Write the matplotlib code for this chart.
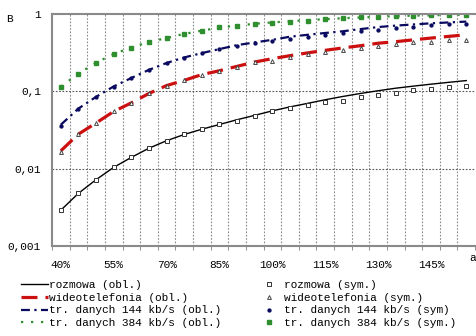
import matplotlib
matplotlib.use("Agg")
import matplotlib.pyplot as plt
import numpy as np

# load levels 40% .. 155% in steps of 5%
loads = list(range(40, 160, 5))
tick_labels = [f"{v}%" for v in loads]

# blocking probability, computed
voice_calc = [0.0029, 0.0048, 0.0072, 0.0104, 0.014, 0.0184, 0.023, 0.0277, 0.0324, 0.0373,
              0.043, 0.049, 0.056, 0.063, 0.070, 0.078, 0.086, 0.094, 0.102, 0.110,
              0.117, 0.124, 0.131, 0.138]
video_calc = [0.017, 0.028, 0.039, 0.055, 0.071, 0.094, 0.119, 0.139, 0.165, 0.185,
              0.211, 0.24, 0.265, 0.29, 0.315, 0.34, 0.365, 0.39, 0.42, 0.44,
              0.465, 0.49, 0.515, 0.54]
data144_calc = [0.037, 0.06, 0.085, 0.116, 0.149, 0.19, 0.233, 0.275, 0.313, 0.353,
                0.397, 0.43, 0.465, 0.51, 0.54, 0.57, 0.60, 0.64, 0.68, 0.71,
                0.735, 0.76, 0.78, 0.80]
data384_calc = [0.115, 0.17, 0.235, 0.305, 0.37, 0.435, 0.49, 0.555, 0.61, 0.67,
                0.71, 0.75, 0.78, 0.81, 0.835, 0.86, 0.885, 0.905, 0.925, 0.94,
                0.955, 0.965, 0.975, 0.985]

# blocking probability, simulated
voice_sim = [0.0029, 0.0048, 0.0072, 0.0104, 0.014, 0.0184, 0.0229, 0.0277, 0.0324, 0.0373,
             0.042, 0.0478, 0.055, 0.0607, 0.066, 0.073, 0.0757, 0.0836, 0.0906, 0.095,
             0.103, 0.106, 0.113, 0.119]
video_sim = [0.0165, 0.028, 0.039, 0.055, 0.071, 0.094, 0.119, 0.139, 0.165, 0.185,
             0.205, 0.24, 0.25, 0.278, 0.304, 0.319, 0.346, 0.363, 0.39, 0.41,
             0.43, 0.44, 0.465, 0.465]
data144_sim = [0.036, 0.059, 0.084, 0.115, 0.148, 0.188, 0.23, 0.272, 0.31, 0.35,
               0.39, 0.42, 0.45, 0.479, 0.513, 0.54, 0.567, 0.61, 0.626, 0.658,
               0.69, 0.725, 0.748, 0.74]
data384_sim = [0.114, 0.170, 0.233, 0.304, 0.367, 0.434, 0.489, 0.556, 0.613, 0.678,
               0.711, 0.748, 0.777, 0.80, 0.825, 0.86, 0.885, 0.91, 0.93, 0.94,
               0.95, 0.96, 0.965, 0.97]

RED = "#cc1010"
NAVY = "#0a0a60"
GREEN = "#2f8f2f"
mono = "Liberation Mono"

fig = plt.figure(figsize=(4.77, 3.36), dpi=100)
ax = fig.add_axes([0.109, 0.268, 0.887, 0.690])
x = np.arange(len(loads))

l1, = ax.plot(x, voice_calc, color="black", lw=1.0)
l2, = ax.plot(x, video_calc, color=RED, lw=2.3, dashes=(5, 2.5))
l3, = ax.plot(x, data144_calc, color=NAVY, lw=1.6, dashes=(4, 2, 1, 2))
l4, = ax.plot(x, data384_calc, color=GREEN, lw=1.6, dashes=(1, 3.5))

m1, = ax.plot(x, voice_sim, ls="none", marker="s", ms=2.8, mfc="white", mec="#333333", mew=0.7)
m2, = ax.plot(x, video_sim, ls="none", marker="^", ms=2.8, mfc="white", mec="#444444", mew=0.7)
m3, = ax.plot(x, data144_sim, ls="none", marker="o", ms=2.1, color=NAVY)
m4, = ax.plot(x, data384_sim, ls="none", marker="s", ms=3.4, color=GREEN)

ax.set_yscale("log")
ax.set_ylim(0.001, 1)
ax.set_xlim(-0.5, len(loads) - 0.5)
ax.set_yticks([0.001, 0.01, 0.1, 1])
ax.set_yticklabels(["0,001", "0,01", "0,1", "1"], family=mono, fontsize=8)
ax.yaxis.set_minor_locator(matplotlib.ticker.NullLocator())
ax.tick_params(axis="y", length=0, pad=8)

ax.set_xticks(x[::3])
ax.set_xticklabels(tick_labels[::3], family=mono, fontsize=8)
ax.set_xticks(np.arange(len(loads) + 1) - 0.5, minor=True)
ax.tick_params(axis="x", which="major", length=0, pad=10)
ax.tick_params(axis="x", which="minor", length=3, color="#808080", direction="out")

# dotted grid: category boundaries and decades
for xb in np.arange(1, len(loads)) - 0.5:
    ax.axvline(xb, color="#8a8a8a", lw=0.8, ls=(0, (1.5, 1.5)), zorder=0)
for yg in [0.01, 0.1]:
    ax.axhline(yg, color="#555555", lw=0.8, ls=(0, (1.5, 1.5)), zorder=0)

for side in ["left", "bottom", "top"]:
    ax.spines[side].set_color("#8a8a8a")
    ax.spines[side].set_linewidth(1.5)
ax.spines["right"].set_visible(False)

fig.text(0.012, 0.943, "B", family=mono, fontsize=8, va="center")
fig.text(0.983, 0.232, "a", family=mono, fontsize=8, va="center")

leg_kw = dict(frameon=False, prop={"family": mono, "size": 8}, handlelength=2.4,
              handletextpad=0.1, labelspacing=0.24, borderpad=0, loc="upper left")
fig.legend([l1, l2, l3, l4],
           ["rozmowa (obl.)", "wideotelefonia (obl.)",
            "tr. danych 144 kb/s (obl.)", "tr. danych 384 kb/s (obl.)"],
           bbox_to_anchor=(0.033, 0.183), **leg_kw)
fig.legend([m1, m2, m3, m4],
           ["rozmowa (sym.)", "wideotelefonia (sym.)",
            "tr. danych 144 kb/s (sym)", "tr. danych 384 kb/s (sym.)"],
           bbox_to_anchor=(0.525, 0.183), **leg_kw)

fig.savefig("out.png", dpi=100)
